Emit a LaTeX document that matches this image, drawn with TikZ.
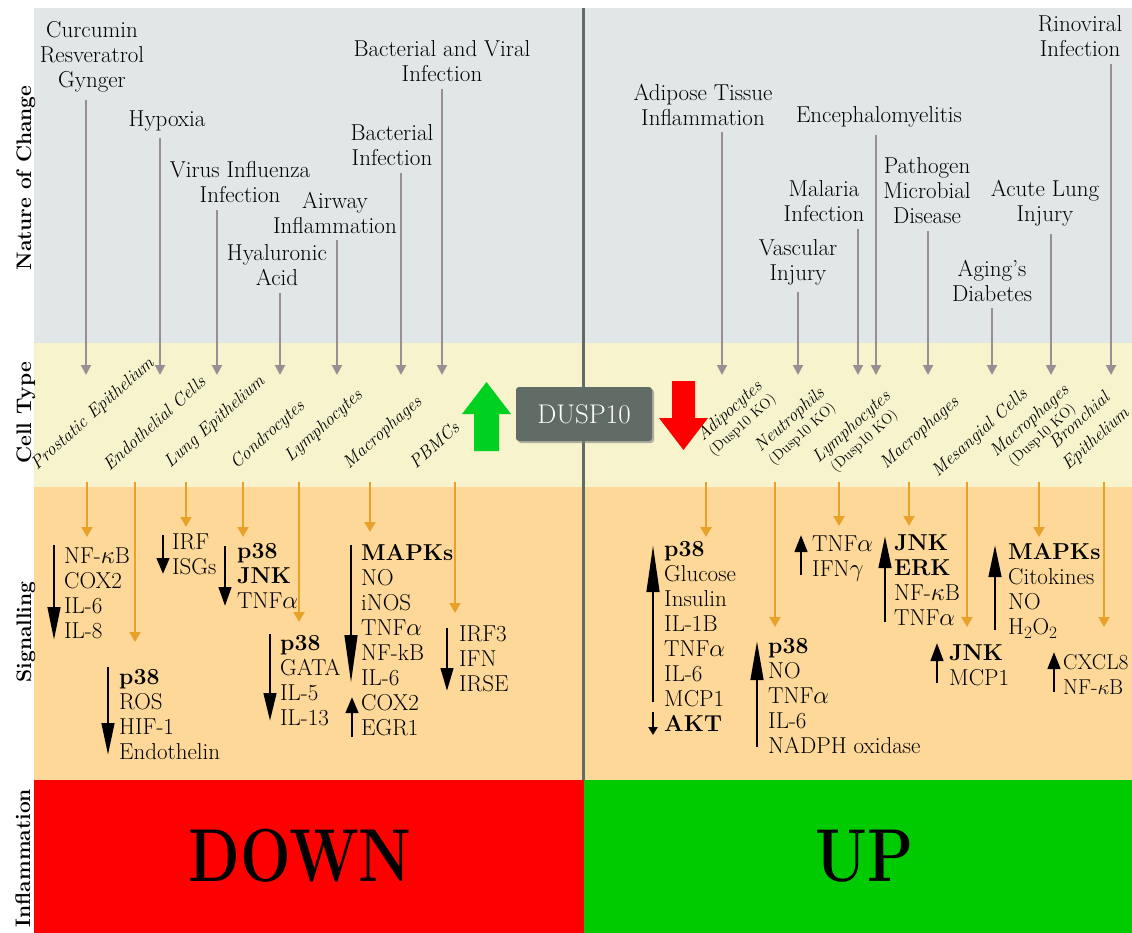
\documentclass[tikz,border=0pt]{standalone}
\usepackage{tikz}
\usepackage{graphicx}
\usetikzlibrary{arrows.meta,shadows}

\definecolor{fondogris}{RGB}{225,230,230}
\definecolor{fondoamarillo}{RGB}{246,243,205}
\definecolor{fondonaranja}{RGB}{253,216,153}
\definecolor{flechagris}{RGB}{152,142,147}
\definecolor{flechanaranja}{RGB}{232,162,42}
\definecolor{divisor}{RGB}{98,108,103}
\definecolor{cajagris}{RGB}{96,108,101}
\definecolor{verdeflecha}{RGB}{0,208,32}
\definecolor{verdeinf}{RGB}{0,202,0}

\begin{document}
\begin{tikzpicture}[x=1pt,y=-1pt,
  cambio/.style={align=center,inner sep=3pt,font=\fontsize{23}{25}\selectfont},
  celula/.style={align=center,inner sep=0pt,rotate=42,font=\fontsize{18}{18}\selectfont\itshape},
  lista/.style={anchor=north west,align=left,inner sep=0pt,font=\fontsize{23}{25}\selectfont},
  eje/.style={rotate=90,anchor=base,inner sep=0pt,font=\fontsize{21}{21}\selectfont\bfseries},
  caja/.style={fill=cajagris,rounded corners=3pt,minimum width=136pt,minimum height=54pt,
    text=white,font=\fontsize{27}{27}\selectfont,
    drop shadow={shadow xshift=2pt,shadow yshift=-2pt,opacity=0.6}},
  flgris/.style={draw=flechagris,line width=2pt,shorten <=4pt,-{Triangle[width=10pt,length=10pt]}},
  flnar/.style={draw=flechanaranja,line width=2pt,-{Triangle[width=11pt,length=10pt]}},
  flneg/.style={line width=2.8pt,-{Triangle[width=12.5pt,length=#1]}}]
  \useasboundingbox (0,0) rectangle (1132,933);
  % bandas de fondo
  \fill[white] (0,0) rectangle (1132,933);
  \fill[fondogris] (34,8) rectangle (1132,343);
  \fill[fondoamarillo] (34,343) rectangle (1132,487);
  \fill[fondonaranja] (34,487) rectangle (1132,780);
  \fill[red] (34,780) rectangle (583.5,933);
  \fill[verdeinf] (583.5,780) rectangle (1132,933);
  \draw[divisor,line width=3pt] (583.5,8) -- (583.5,780);
  % titulos laterales
  \node[eje] (nat) at (31,178) {Nature of Change};
  \node[eje] (cel) at (31,413) {Cell Type};
  \node[eje] (sen) at (31,632) {Signalling};
  \node[eje] (inf) at (30,858) {Inflammation};
  % naturaleza del cambio
  \node[cambio] (curc) at (92,57) {Curcumin\\Resveratrol\\Gynger};
  \node[cambio] (hypo) at (167,121) {Hypoxia};
  \node[cambio] (virus) at (240,182.5) {Virus Influenza\\Infection};
  \node[cambio] (hyal) at (277,265) {Hyaluronic\\Acid};
  \node[cambio] (airw) at (335,212.5) {Airway\\Inflammation};
  \node[cambio] (bact) at (392,145.5) {Bacterial\\Infection};
  \node[cambio] (bactv) at (442,61.5) {Bacterial and Viral\\Infection};
  \node[cambio] (adip) at (703,104.5) {Adipose Tissue\\Inflammation};
  \node[cambio] (vasc) at (798,262) {Vascular\\Injury};
  \node[cambio] (malar) at (824,201.5) {Malaria\\Infection};
  \node[cambio] (enceph) at (879,117) {Encephalomyelitis};
  \node[cambio] (patho) at (927,191) {Pathogen\\Microbial\\Disease};
  \node[cambio] (aging) at (992,280.5) {Aging's\\Diabetes};
  \node[cambio] (alung) at (1045,203.5) {Acute Lung\\Injury};
  \node[cambio] (rino) at (1080,36.5) {Rinoviral\\Infection};
  \foreach \n/\x in {curc/86,hypo/160,virus/217,hyal/280,airw/337,bact/401,bactv/442,
      adip/722,vasc/798,malar/858,enceph/876,patho/928,aging/992,alung/1051,rino/1111}{
    \coordinate (\n-c) at (\x,375);
    \draw[flgris] (\n.south -| \n-c) -- (\n-c);
  }
  % tipos celulares
  \node[celula] (prost) at (93,414) {Prostatic Epithelium};
  \node[celula] (endo) at (154,423) {Endothelial Cells};
  \node[celula] (lung) at (215,422) {Lung Epithelium};
  \node[celula] (cond) at (268,435) {Condrocytes};
  \node[celula] (lymph) at (324,426) {Lymphocytes};
  \node[celula] (macro) at (383,433) {Macrophages};
  \node[celula] (pbmc) at (434,445) {PBMCs};
  \node[celula] (adipo) at (736,418) {Adipocytes\\{\upshape\fontsize{14.5}{15}\selectfont(Dusp10 KO)}};
  \node[celula] (neutr) at (796,427) {Neutrophils\\{\upshape\fontsize{14.5}{15}\selectfont(Dusp10 KO)}};
  \node[celula] (lymko) at (858,434) {Lymphocytes\\{\upshape\fontsize{14.5}{15}\selectfont(Dusp10 KO)}};
  \node[celula] (macr2) at (920,433) {Macrophages};
  \node[celula] (mesan) at (980,433) {Mesangial Cells};
  \node[celula] (macko) at (1036,428) {Macrophages\\{\upshape\fontsize{14.5}{15}\selectfont(Dusp10 KO)}};
  \node[celula] (bronq) at (1088,430) {Bronchial\\[6pt]Epithelium};
  % DUSP10 y flechas grandes
  \node[caja] (dusp) at (584,414) {DUSP10};
  \fill[verdeflecha] (474,451) -- (474,414) -- (462,414) -- (486.5,382) -- (511,414)
    -- (499,414) -- (499,451) -- cycle;
  \fill[red] (672,381) -- (672,418) -- (659,418) -- (683.5,450) -- (708,418)
    -- (695,418) -- (695,381) -- cycle;
  % flechas hacia la senalizacion
  \foreach \x/\y [count=\i] in {87/537,135/642,186/527,243/537,299/622,370/532,455/613,
      706/537,775/627,839/526,909/526,967/627,1039/537,1104/627}{
    \coordinate (s\i) at (\x,482);
    \coordinate (t\i) at (\x,\y);
    \draw[flnar] (s\i) -- (t\i);
  }
  % senalizacion
  \node[lista] (sA) at (64,548) {NF-$\kappa$B\\COX2\\IL-6\\IL-8};
  \node[lista] (sB) at (119,669) {\textbf{p38}\\ROS\\HIF-1\\Endothelin};
  \node[lista] (sC) at (172,534) {IRF\\ISGs};
  \node[lista] (sD) at (237,543) {\textbf{p38}\\\textbf{JNK}\\TNF$\alpha$};
  \node[lista] (sE) at (280,635) {\textbf{p38}\\GATA\\IL-5\\IL-13};
  \node[lista] (sF) at (361,544) {\textbf{MAPKs}\\NO\\iNOS\\TNF$\alpha$\\NF-kB\\IL-6\\COX2\\EGR1};
  \node[lista] (sG) at (459,626) {IRF3\\IFN\\IRSE};
  \node[lista] (sH) at (664,541) {\textbf{p38}\\Glucose\\Insulin\\IL-1B\\TNF$\alpha$\\IL-6\\MCP1\\\textbf{AKT}};
  \node[lista] (sI) at (768,638) {\textbf{p38}\\NO\\TNF$\alpha$\\IL-6\\NADPH oxidase};
  \node[lista] (sJ) at (812,536) {TNF$\alpha$\\IFN$\gamma$};
  \node[lista] (sK) at (894,535) {\textbf{JNK}\\\textbf{ERK}\\NF-$\kappa$B\\TNF$\alpha$};
  \node[lista] (sL) at (949,645) {\textbf{JNK}\\MCP1};
  \node[lista] (sM) at (1008,543) {\textbf{MAPKs}\\Citokines\\NO\\H$_2$O$_2$};
  \node[lista,font=\fontsize{21.5}{25}\selectfont] (sN) at (1063,654) {CXCL8\\NF-$\kappa$B};
  % flechas negras de regulacion
  \draw[flneg=33pt] (54,545) -- (54,640);
  \draw[flneg=32pt] (108,667) -- (108,755);
  \draw[flneg=16pt] (163,535) -- (163,574);
  \draw[flneg=19pt] (225,546) -- (225,606);
  \draw[flneg=28pt] (270,634) -- (270,721);
  \draw[flneg=48pt] (351,545) -- (351,683);
  \draw[flneg=16pt] (352,737) -- (352,697);
  \draw[flneg=23pt] (447,628) -- (447,691);
  \draw[flneg=47pt] (653,702) -- (653,545);
  \draw[line width=2pt,-{Triangle[width=9pt,length=8pt]}] (653,712) -- (653,735);
  \draw[flneg=39pt] (757,747) -- (757,641);
  \draw[flneg=17pt] (801,575) -- (801,535);
  \draw[flneg=32pt] (885,622) -- (885,536);
  \draw[flneg=18pt] (937,683) -- (937,643);
  \draw[flneg=32pt] (995,630) -- (995,545);
  \draw[flneg=17pt] (1054,692) -- (1054,652);
  % inflamacion
  \node (down) at (300,856) {\scalebox{0.8}[1]{\fontsize{75}{75}\selectfont\bfseries DOWN}};
  \node (up) at (865,856) {\scalebox{0.8}[1]{\fontsize{75}{75}\selectfont\bfseries UP}};
\end{tikzpicture}
\end{document}
